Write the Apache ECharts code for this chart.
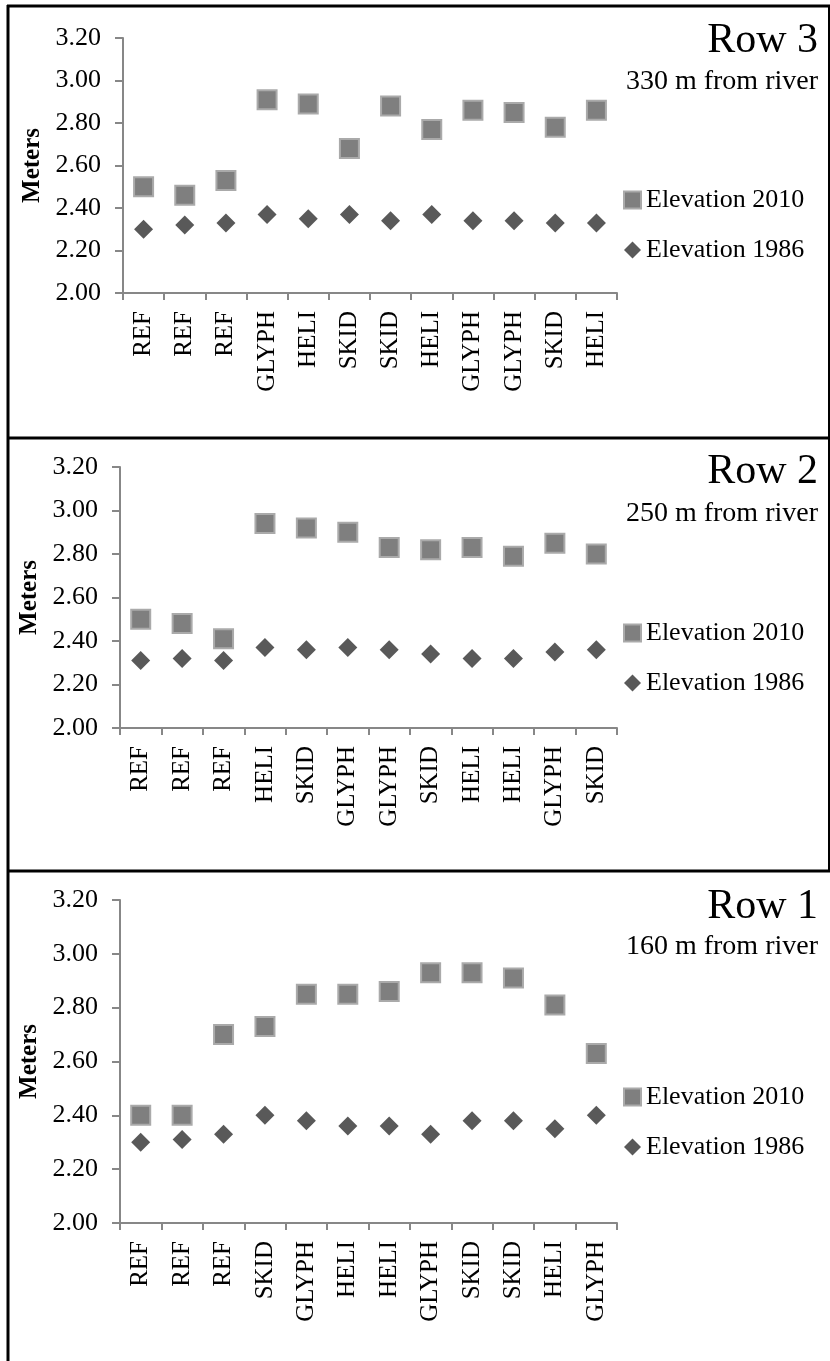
<!DOCTYPE html>
<html>
<head>
<meta charset="utf-8">
<script src="https://cdn.jsdelivr.net/npm/echarts@6/dist/echarts.min.js"></script>
<style>
  html, body { margin: 0; padding: 0; background: #fff; }
  #main { width: 830px; height: 1361px; }
</style>
</head>
<body>
<div id="main"></div>
<script type="text/javascript">
// categories (x axis) for each row
var catsRow3 = ['REF', 'REF', 'REF', 'GLYPH', 'HELI', 'SKID', 'SKID', 'HELI', 'GLYPH', 'GLYPH', 'SKID', 'HELI'];
var catsRow2 = ['REF', 'REF', 'REF', 'HELI', 'SKID', 'GLYPH', 'GLYPH', 'SKID', 'HELI', 'HELI', 'GLYPH', 'SKID'];
var catsRow1 = ['REF', 'REF', 'REF', 'SKID', 'GLYPH', 'HELI', 'HELI', 'GLYPH', 'SKID', 'SKID', 'HELI', 'GLYPH'];

// elevations (m)
var elev2010Row3 = [2.50, 2.46, 2.53, 2.91, 2.89, 2.68, 2.88, 2.77, 2.86, 2.85, 2.78, 2.86];
var elev1986Row3 = [2.30, 2.32, 2.33, 2.37, 2.35, 2.37, 2.34, 2.37, 2.34, 2.34, 2.33, 2.33];
var elev2010Row2 = [2.50, 2.48, 2.41, 2.94, 2.92, 2.90, 2.83, 2.82, 2.83, 2.79, 2.85, 2.80];
var elev1986Row2 = [2.31, 2.32, 2.31, 2.37, 2.36, 2.37, 2.36, 2.34, 2.32, 2.32, 2.35, 2.36];
var elev2010Row1 = [2.40, 2.40, 2.70, 2.73, 2.85, 2.85, 2.86, 2.93, 2.93, 2.91, 2.81, 2.63];
var elev1986Row1 = [2.30, 2.31, 2.33, 2.40, 2.38, 2.36, 2.36, 2.33, 2.38, 2.38, 2.35, 2.40];

var titles = ['Row 3', 'Row 2', 'Row 1'];
var subtitles = ['330 m from river', '250 m from river', '160 m from river'];
var seriesNames = ['Elevation 2010', 'Elevation 1986'];
var yMin = 2.0, yMax = 3.2, yStep = 0.2;

var rows = [
    {cats: catsRow3, e2010: elev2010Row3, e1986: elev1986Row3},
    {cats: catsRow2, e2010: elev2010Row2, e1986: elev1986Row2},
    {cats: catsRow1, e2010: elev2010Row1, e1986: elev1986Row1}
];

// panel layout (pixels)
var layout = [
    {left: 123, top: 38,  width: 494, height: 255, legendTop: 187,  titleY: 41,  subY: 82},
    {left: 120, top: 467, width: 497, height: 261, legendTop: 620,  titleY: 472, subY: 514},
    {left: 120, top: 900, width: 497, height: 323, legendTop: 1084, titleY: 907, subY: 947}
];

var serif = "'Liberation Serif', 'Times New Roman', serif";
var axisGray = '#878787';

var grid = [], xAxis = [], yAxis = [], series = [], legend = [], graphic = [];

rows.forEach(function (row, i) {
    var L = layout[i];
    grid.push({left: L.left, top: L.top, width: L.width, height: L.height, containLabel: false});

    xAxis.push({
        type: 'category',
        gridIndex: i,
        data: row.cats,
        axisLine: {lineStyle: {color: axisGray, width: 2}},
        axisTick: {show: true, length: 7, lineStyle: {color: axisGray, width: 2}},
        axisLabel: {rotate: 90, interval: 0, margin: 18, color: '#000', fontFamily: serif, fontSize: 25},
        splitLine: {show: false}
    });

    yAxis.push({
        type: 'value',
        gridIndex: i,
        min: yMin,
        max: yMax,
        interval: yStep,
        name: 'Meters',
        nameLocation: 'middle',
        nameRotate: 90,
        nameGap: 78,
        nameTextStyle: {fontFamily: serif, fontWeight: 'bold', fontSize: 25, color: '#000'},
        axisLine: {show: true, lineStyle: {color: axisGray, width: 2}},
        axisTick: {show: true, length: 8, lineStyle: {color: axisGray, width: 2}},
        axisLabel: {
            margin: 22, color: '#000', fontFamily: serif, fontSize: 26,
            formatter: function (v) { return v.toFixed(2); }
        },
        splitLine: {show: false}
    });

    series.push({
        name: seriesNames[0],
        type: 'scatter',
        xAxisIndex: i,
        yAxisIndex: i,
        symbol: 'rect',
        symbolSize: 19,
        itemStyle: {color: '#7f7f7f', borderColor: '#aaaaaa', borderWidth: 2, opacity: 1},
        data: row.e2010.map(function (v, k) { return [k, v]; })
    });
    series.push({
        name: seriesNames[1],
        type: 'scatter',
        xAxisIndex: i,
        yAxisIndex: i,
        symbol: 'diamond',
        symbolSize: 19,
        itemStyle: {color: '#595959', opacity: 1},
        data: row.e1986.map(function (v, k) { return [k, v]; })
    });

    legend.push({
        data: seriesNames,
        orient: 'vertical',
        left: 623,
        top: L.legendTop,
        padding: 0,
        itemGap: 24,
        itemWidth: 17,
        itemHeight: 17,
        selectedMode: false,
        textStyle: {fontFamily: serif, fontSize: 26, color: '#000'}
    });

    graphic.push({
        type: 'text', x: 818, y: L.titleY,
        style: {text: titles[i], font: '42px ' + serif, fill: '#000', align: 'right', verticalAlign: 'middle'}
    });
    graphic.push({
        type: 'text', x: 818, y: L.subY,
        style: {text: subtitles[i], font: '28px ' + serif, fill: '#000', align: 'right', verticalAlign: 'middle'}
    });
});

// panel frames
var frame = {stroke: '#000', lineWidth: 3};
graphic.push({type: 'line', shape: {x1: 7, y1: 6, x2: 830, y2: 6}, style: frame});
graphic.push({type: 'line', shape: {x1: 7, y1: 438, x2: 830, y2: 438}, style: frame});
graphic.push({type: 'line', shape: {x1: 7, y1: 871, x2: 830, y2: 871}, style: frame});
graphic.push({type: 'line', shape: {x1: 8, y1: 5, x2: 8, y2: 1361}, style: frame});
graphic.push({type: 'line', shape: {x1: 829, y1: 5, x2: 829, y2: 871}, style: {stroke: '#000', lineWidth: 2}});

var chart = echarts.init(document.getElementById('main'), null, {renderer: 'canvas'});
chart.setOption({
    animation: false,
    backgroundColor: '#fff',
    grid: grid,
    xAxis: xAxis,
    yAxis: yAxis,
    legend: legend,
    series: series,
    graphic: graphic
});
</script>
</body>
</html>
